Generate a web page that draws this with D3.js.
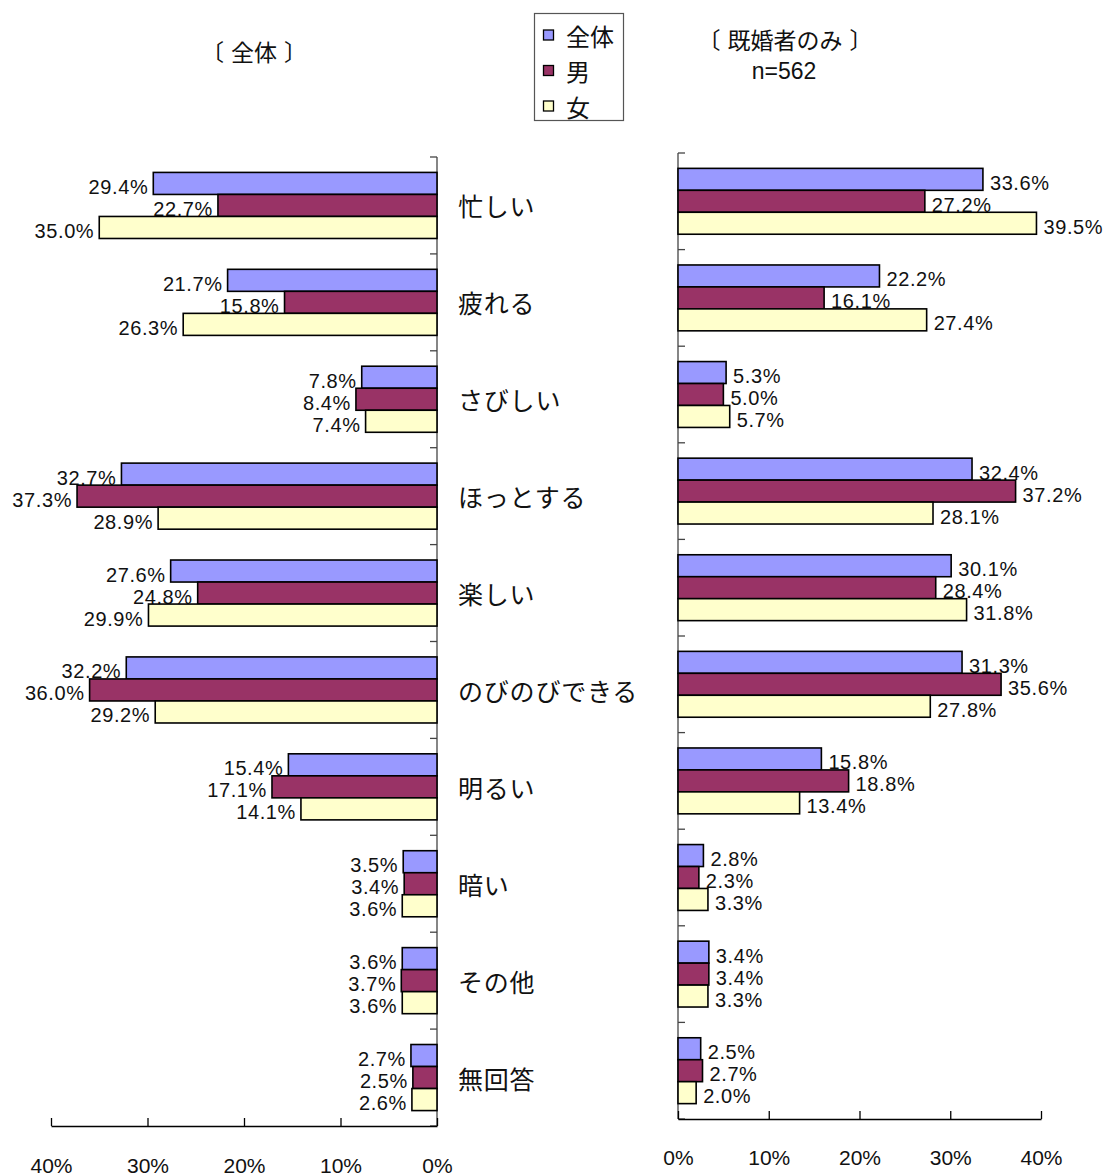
<!DOCTYPE html>
<html><head><meta charset="utf-8">
<script src="https://cdn.jsdelivr.net/npm/d3@7"></script>
<style>body{margin:0;background:#fff}</style>
</head><body>
<svg id="chart" width="1107" height="1175"></svg>
<script>
const categories = ["忙しい","疲れる","さびしい","ほっとする","楽しい","のびのびできる","明るい","暗い","その他","無回答"];
const seriesNames = ["全体","男","女"];
const seriesColors = ["#9999FF","#993366","#FFFFCC"];
const allTotal = [29.4,21.7,7.8,32.7,27.6,32.2,15.4,3.5,3.6,2.7];
const allMale  = [22.7,15.8,8.4,37.3,24.8,36.0,17.1,3.4,3.7,2.5];
const allFemale= [35.0,26.3,7.4,28.9,29.9,29.2,14.1,3.6,3.6,2.6];
const marTotal = [33.6,22.2,5.3,32.4,30.1,31.3,15.8,2.8,3.4,2.5];
const marMale  = [27.2,16.1,5.0,37.2,28.4,35.6,18.8,2.3,3.4,2.7];
const marFemale= [39.5,27.4,5.7,28.1,31.8,27.8,13.4,3.3,3.3,2.0];
const tickValues = [0,10,20,30,40];
const tickLabels = ["0%","10%","20%","30%","40%"];
const leftTitle = ["〔","全体","〕"];
const rightTitle = ["〔","既婚者のみ","〕"];
const rightSubtitle = "n=562";

const svg = d3.select("#chart");
const CJK = "'Noto Sans CJK JP', sans-serif";
const NUM = "'Liberation Sans', Arial, sans-serif";

function panel(opts){
  const {values, x, yTop, yBottom, axisX, side, tickLabelY} = opts;
  const y0 = d3.scaleBand().domain(categories).range([yTop, yBottom]);
  const y1 = d3.scaleBand().domain(seriesNames).range([0, y0.bandwidth()]).paddingInner(0).paddingOuter(0.7);
  const g = svg.append("g");
  const bounds = categories.map(c => y0(c)).concat([yBottom]);
  g.append("line").attr("x1",axisX).attr("x2",axisX).attr("y1",yTop).attr("y2",yBottom)
    .attr("stroke","#444").attr("stroke-width",1.3);
  g.selectAll(".vt").data(bounds).enter().append("line")
    .attr("x1",axisX).attr("x2",axisX + (side==="left"?-7:7))
    .attr("y1",d=>d).attr("y2",d=>d).attr("stroke","#444").attr("stroke-width",1.3);
  seriesNames.forEach((s, si) => {
    const data = values[si].map((v,i)=>({c:categories[i], v}));
    const sg = g.append("g");
    sg.selectAll("rect").data(data).enter().append("rect")
      .attr("x", d => Math.min(x(0), x(d.v)))
      .attr("width", d => Math.abs(x(d.v) - x(0)))
      .attr("y", d => y0(d.c) + y1(s))
      .attr("height", y1.bandwidth())
      .attr("fill", seriesColors[si]).attr("stroke","#000").attr("stroke-width",1.6);
    sg.selectAll("text").data(data).enter().append("text")
      .attr("x", d => side==="left" ? x(d.v) - 5 : x(d.v) + 7)
      .attr("y", d => y0(d.c) + y1(s) + y1.bandwidth() - 0.5)
      .attr("text-anchor", side==="left" ? "end" : "start")
      .attr("font-family", NUM).attr("font-size", 20).attr("letter-spacing", 0.6)
      .attr("fill","#111")
      .text(d => d.v.toFixed(1) + "%");
  });
  const ax = d3.axisBottom(x).tickValues(tickValues).tickSizeInner(-8).tickSizeOuter(0)
    .tickPadding(0).tickFormat((d,i)=>tickLabels[i]);
  const axg = g.append("g").attr("transform",`translate(0,${yBottom})`).call(ax);
  axg.select(".domain").attr("stroke","#000").attr("stroke-width",1.3);
  axg.selectAll(".tick line").attr("stroke","#000").attr("stroke-width",1.3);
  axg.selectAll(".tick text").attr("font-family",NUM).attr("font-size",21)
    .attr("fill","#111").attr("dy",null).attr("y", tickLabelY).attr("dominant-baseline","central");
  return y0;
}

const xL = d3.scaleLinear().domain([0,40]).range([437,51]);
const y0L = panel({values:[allTotal,allMale,allFemale], x:xL, yTop:157, yBottom:1126, axisX:437, side:"left", tickLabelY:39});
const xR = d3.scaleLinear().domain([0,40]).range([678,1041]);
panel({values:[marTotal,marMale,marFemale], x:xR, yTop:153, yBottom:1119, axisX:678, side:"right", tickLabelY:38});

svg.append("g").selectAll("text").data(categories).enter().append("text")
  .attr("x",458).attr("y",d=>y0L(d)+y0L.bandwidth()/2)
  .attr("dominant-baseline","central")
  .attr("font-family",CJK).attr("font-size",25).attr("letter-spacing",0.8).attr("fill","#111").text(d=>d);

function title(parts, cx, cy, gap){
  const t = svg.append("text").attr("x",cx).attr("y",cy).attr("text-anchor","middle").attr("dominant-baseline","central")
    .attr("font-family",CJK).attr("font-size",23).attr("fill","#111");
  parts.forEach((p,i)=>{ t.append("tspan").attr("dx", i===0?0:gap).text(p); });
}
title(leftTitle, 254, 51, 7);
title(rightTitle, 785, 39, 7);
svg.append("text").attr("x",784).attr("y",71).attr("text-anchor","middle").attr("dominant-baseline","central")
  .attr("font-family",NUM).attr("font-size",23).attr("fill","#111").text(rightSubtitle);

const lg = svg.append("g");
lg.append("rect").attr("x",534.5).attr("y",13.5).attr("width",89).attr("height",107)
  .attr("fill","#fff").attr("stroke","#555").attr("stroke-width",1.2);
const legY = d3.scalePoint().domain(seriesNames).range([35,106]);
seriesNames.forEach((s,i)=>{
  lg.append("rect").attr("x",543.5).attr("y",legY(s)-5).attr("width",10).attr("height",10)
    .attr("fill",seriesColors[i]).attr("stroke","#000").attr("stroke-width",1.3);
  lg.append("text").attr("x",566).attr("y",legY(s)).attr("dominant-baseline","central")
    .attr("font-family",CJK).attr("font-size",24).attr("fill","#111").text(s);
});
</script>
</body></html>
